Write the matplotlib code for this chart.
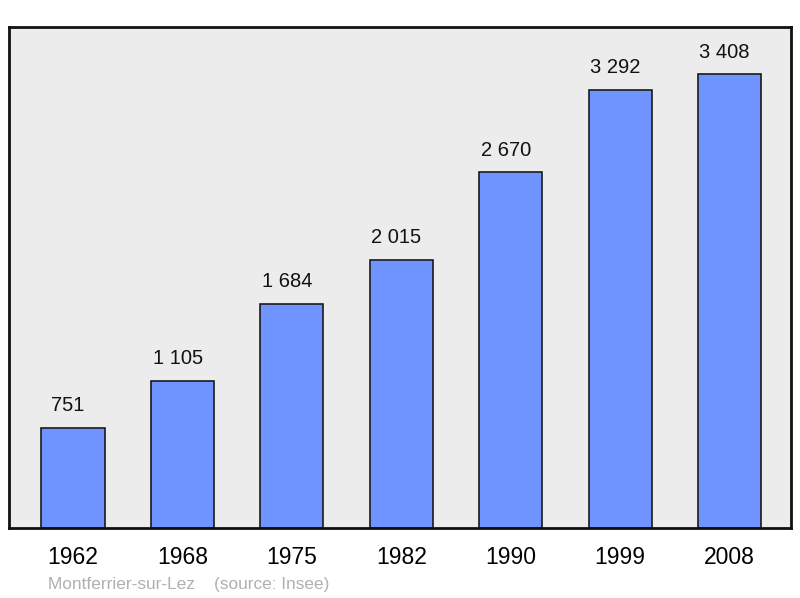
import matplotlib
matplotlib.use("Agg")
import matplotlib.pyplot as plt

years = ["1962", "1968", "1975", "1982", "1990", "1999", "2008"]
population = [751, 1105, 1684, 2015, 2670, 3292, 3408]
labels = ["751", "1 105", "1 684", "2 015", "2 670", "3 292", "3 408"]

plt.rcParams['font.family'] = ['Liberation Sans', 'DejaVu Sans']

fig = plt.figure(figsize=(8, 5.98), dpi=100)
ax = fig.add_axes([9 / 800, 70 / 598, 782 / 800, 501 / 598])
ax.set_facecolor('#ececec')

x = range(len(years))
ax.bar(x, population, width=0.576, color='#7094ff', edgecolor='#1a1a1a',
       linewidth=1.2, zorder=2)
# value labels sit a bit left of the bar centre in the original
for xi, v, lab in zip(x, population, labels):
    ax.annotate(lab, (xi, v), xytext=(-3.5, 9), textcoords='offset points',
                ha='center', va='bottom', fontsize=14.5, color='#111111')

ax.set_xlim(-0.585, 6.562)
ax.set_ylim(0, 3762)
ax.set_xticks(list(x))
ax.set_xticklabels(years, fontsize=16.5)
ax.tick_params(axis='x', length=0, pad=13)
ax.set_yticks([])
for s in ax.spines.values():
    s.set_linewidth(2)
    s.set_color('#111111')

fig.text(48 / 800, 1 - 584 / 598, "Montferrier-sur-Lez    (source: Insee)",
         fontsize=12.4, color='#b0b0b0', ha='left', va='center')

fig.savefig('out.png', dpi=100)
